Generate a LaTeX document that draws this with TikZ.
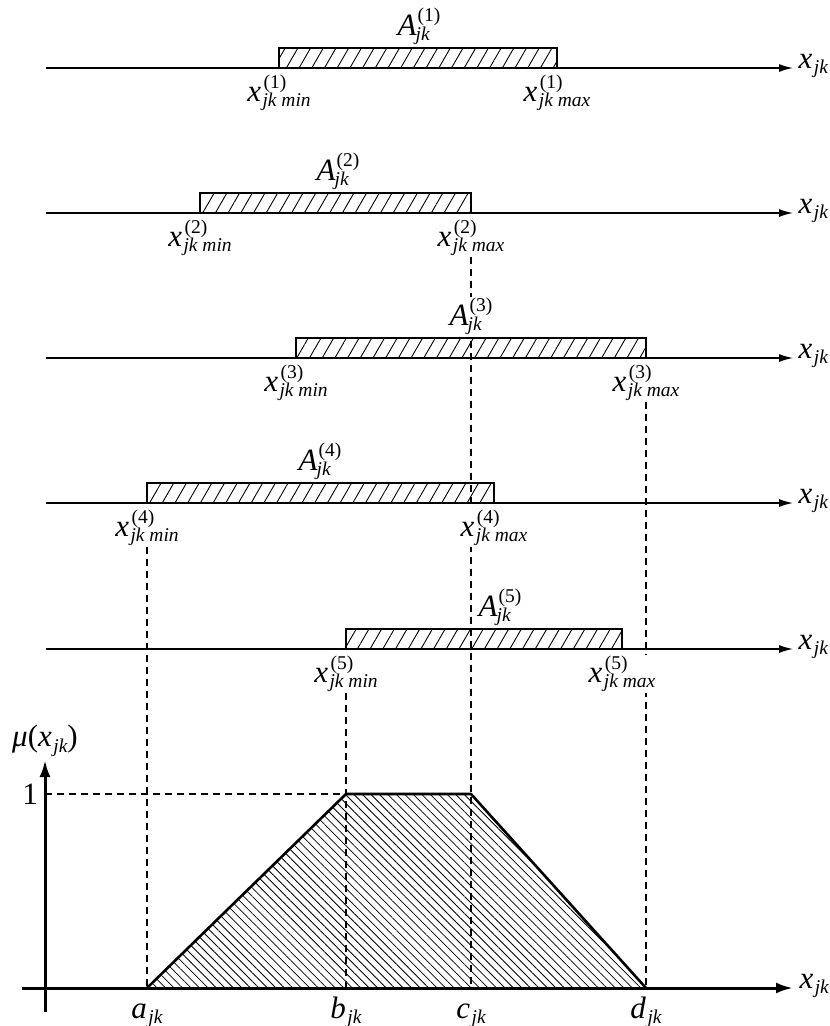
\documentclass[tikz,border=0pt]{standalone}
\usepackage{fontspec}
\setmainfont{Liberation Serif}
\usetikzlibrary{arrows.meta, patterns.meta, backgrounds, positioning}

% labels with stacked super- and subscript
\newcommand{\sm}{\fontsize{19.5}{22}\selectfont}
\newcommand{\lab}[3]{\textit{#1}\rlap{\raisebox{0.4em}{\sm\kern2.5pt #2}}\raisebox{-0.18em}{\sm\itshape\kern1.5pt #3}}
\newcommand{\lbA}[1]{\textit{A}\rlap{\raisebox{-0.18em}{\sm\itshape\kern-1pt jk}}\raisebox{0.45em}{\sm\kern1pt (#1)}}
\newcommand{\lbmin}[1]{\lab{x}{(#1)}{jk min}}
\newcommand{\lbmax}[1]{\lab{x}{(#1)}{jk max}}

\tikzstyle{axis} = [line width=1.3pt, -{Latex[length=14pt,width=8pt]}]
\tikzstyle{bigaxis} = [line width=3pt, -{Latex[length=17pt,width=11pt]}]
\tikzstyle{interval} = [draw=black, line width=1.1pt, pattern={Lines[angle=60,distance=11pt,line width=0.9pt]}]
\tikzstyle{trap} = [pattern={Lines[angle=-45,distance=6pt,line width=0.8pt]}]
\tikzstyle{guide} = [line width=1.2pt, dash pattern=on 7pt off 5pt]
\tikzstyle{lbl} = [inner sep=1pt, fill=white]

\begin{document}
\begin{tikzpicture}[x=1pt, y=-1pt, font=\fontsize{31}{33}\selectfont]
            \useasboundingbox (0,0) rectangle (830,1026);

            % Intervals on the five axes
            \foreach \i/\l/\r/\y/\ax in {1/279/557/68/419, 2/200/471/213/338, 3/296/646/358/471, 4/147/494/503/320, 5/346/622/649/500}
            {
                \draw[interval] (\l,\y-20) rectangle (\r,\y);
                \draw[axis] (46,\y) -- (793,\y) node[anchor=base west, xshift=4pt, inner sep=1pt] (xa\i) {\lab{x}{}{jk}};
                \node[lbl, anchor=base] (A\i) at (\ax,\y-33) {\lbA{\i}};
                \node[lbl, anchor=base] (min\i) at (\l,\y+33) {\lbmin{\i}};
                \node[lbl, anchor=base] (max\i) at (\r,\y+33) {\lbmax{\i}};
            }

            % Membership function
            \coordinate (o) at (45,988);
            \coordinate (a) at (147,988);
            \coordinate (b) at (346,988);
            \coordinate (c) at (471,988);
            \coordinate (d) at (646,988);
            \coordinate (bt) at (346,794);
            \coordinate (ct) at (471,794);
            \coordinate (lev) at (45,794);

            \fill[trap] (a) -- (bt) -- (ct) -- (d) -- cycle;
            \draw[line width=2.6pt, line join=round] (a) -- (bt) -- (ct) -- (d);

            \draw[bigaxis] (22,988) -- (793,988) node[anchor=base west, xshift=4pt, inner sep=1pt] (xb) {\lab{x}{}{jk}};
            \draw[bigaxis] (45,1012) -- (45,760) node[anchor=south, inner sep=2pt] (mu) {\textit{μ}(\lab{x}{}{jk})};

            \node[left=6pt of lev, inner sep=1pt] (one) {1};
            \node[anchor=base] (la) at (147,1018) {\lab{a}{}{jk}};
            \node[anchor=base] (lb) at (346,1018) {\lab{b}{}{jk}};
            \node[anchor=base] (lc) at (471,1018) {\lab{c}{}{jk}};
            \node[anchor=base] (ld) at (646,1018) {\lab{d}{}{jk}};

            % Guides
            \begin{scope}[on background layer]
                \draw[guide] (max2.south) -- (c);
                \draw[guide] (max3.south) -- (d);
                \draw[guide] (min4.south) -- (a);
                \draw[guide] (min5.south) -- (b);
                \draw[guide] (lev) -- (bt);
            \end{scope}

        \end{tikzpicture}
\end{document}
